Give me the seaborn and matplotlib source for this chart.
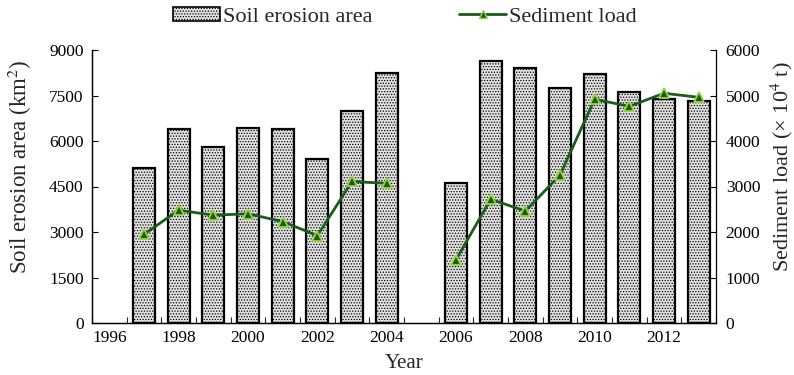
import matplotlib
matplotlib.use("Agg")
import matplotlib.pyplot as plt
import seaborn as sns
import pandas as pd
import numpy as np
from matplotlib.patches import Patch
from matplotlib.lines import Line2D
from matplotlib.ticker import FixedLocator

# ---- data ----
years = [1997, 1998, 1999, 2000, 2001, 2002, 2003, 2004,
         2006, 2007, 2008, 2009, 2010, 2011, 2012, 2013]
erosion_area = [5100, 6380, 5810, 6440, 6380, 5400, 7000, 8250,
                4630, 8650, 8420, 7760, 8220, 7600, 7370, 7330]
sediment_load = [1950, 2480, 2370, 2400, 2230, 1920, 3110, 3070,
                 1390, 2720, 2460, 3250, 4920, 4760, 5050, 4960]
segment = ["A"] * 8 + ["B"] * 8
year_ticks = [1996, 1998, 2000, 2002, 2004, 2006, 2008, 2010, 2012]
left_ticks = [0, 1500, 3000, 4500, 6000, 7500, 9000]
right_ticks = [0, 1000, 2000, 3000, 4000, 5000, 6000]

df = pd.DataFrame({"year": years, "area": erosion_area,
                   "load": sediment_load, "seg": segment})

sns.set_theme(style="white")
plt.rcParams["font.family"] = ["Liberation Serif", "DejaVu Serif"]
plt.rcParams["mathtext.fontset"] = "stix"
plt.rcParams["hatch.color"] = "#9a9a9a"
plt.rcParams["hatch.linewidth"] = 0.6

BAR_FACE = "#e2e2e2"
LINE_C = "#1a5c1a"
MARK_EDGE = "#9bd442"

fig = plt.figure(figsize=(7.94, 3.75), dpi=100)
ax = fig.add_axes([92 / 794, 1 - 323 / 375, (716 - 92) / 794, (323 - 50) / 375])

sns.barplot(data=df, x="year", y="area", native_scale=True, width=0.64,
            color=BAR_FACE, edgecolor="black", linewidth=1.6, ax=ax,
            saturation=1, errorbar=None)
for p in ax.patches:
    p.set_hatch("......")
    p.set_facecolor(BAR_FACE)

ax.set_xlim(1995.5, 2013.5)
ax.set_ylim(0, 9000)
ax.set_yticks(left_ticks)
ax.set_xticks(year_ticks)
ax.xaxis.set_minor_locator(FixedLocator(np.arange(1995.5, 2014, 1.0)))
ax.tick_params(axis="x", which="major", length=0, labelsize=12.5, pad=5, colors="black")
ax.tick_params(axis="x", which="minor", length=4, direction="in", bottom=True, width=0.8)
ax.tick_params(axis="y", which="major", length=4, direction="in", left=True,
               labelsize=12.5, width=0.8, pad=6, colors="black")
ax.set_xlabel("Year", fontsize=15)
ax.set_ylabel("Soil erosion area (km$^2$)", fontsize=16.5, va="center")
ax.xaxis.set_label_coords(0.5, -0.115)
ax.yaxis.set_label_coords(-0.1154, 0.571)

ax2 = ax.twinx()
for seg, sub in df.groupby("seg"):
    sns.lineplot(data=sub, x="year", y="load", ax=ax2, color=LINE_C,
                 linewidth=2.0, marker="^", markersize=7.5,
                 markerfacecolor=LINE_C, markeredgecolor=MARK_EDGE,
                 markeredgewidth=1.3, estimator=None)
ax2.set_ylim(0, 6000)
ax2.set_yticks(right_ticks)
ax2.tick_params(axis="y", which="major", length=4, direction="in", right=True,
                labelsize=12.5, width=0.8, pad=7, colors="black")
ax2.set_ylabel("Sediment load (\u00d7 10$^4$ t)", fontsize=16, va="center")
ax2.yaxis.set_label_coords(1.106, 0.571)
ax2.set_xlim(1995.5, 2013.5)

for a in (ax, ax2):
    for side in ("left", "right", "bottom"):
        a.spines[side].set_visible(True)
        a.spines[side].set_color("black")
        a.spines[side].set_linewidth(0.9)
    a.spines["top"].set_visible(False)
    a.grid(False)
ax.spines["right"].set_visible(False)

handles = [
    Patch(facecolor=BAR_FACE, edgecolor="black", hatch="......", linewidth=1.2),
    Line2D([0], [0], color=LINE_C, linewidth=2.0, marker="^", markersize=6,
           markerfacecolor=LINE_C, markeredgecolor=MARK_EDGE, markeredgewidth=1.0),
]
fig.legend(handles, ["Soil erosion area", "Sediment load"], loc="center",
           bbox_to_anchor=(0.51, 0.955), ncol=2, frameon=False, fontsize=16,
           handlelength=2.1, handleheight=0.6, handletextpad=0.15, columnspacing=3.9)

fig.savefig("out.png", dpi=100)
